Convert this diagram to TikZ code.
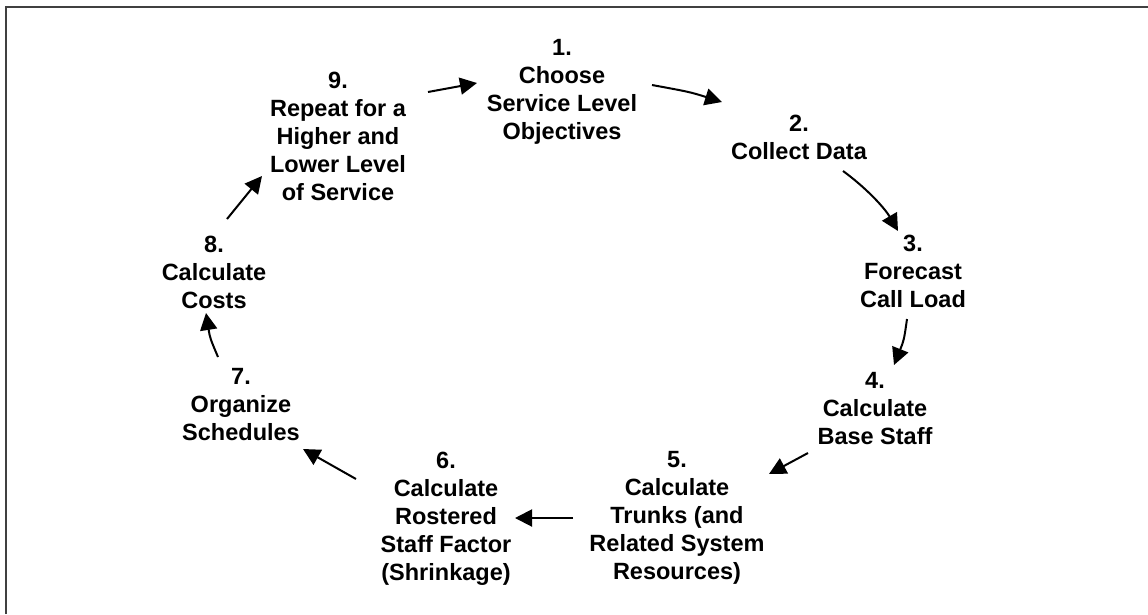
\documentclass[tikz,border=0pt]{standalone}
\usepackage{fontspec}
\setmainfont{Liberation Sans}
\usetikzlibrary{arrows.meta}
\tikzset{
  stepnode/.style={anchor=north, inner sep=0pt, align=center,
    font=\bfseries\fontsize{23.5}{28}\selectfont},
  flow/.style={line width=2pt, -{Triangle[length=17pt,width=17pt]}},
  frame/.style={line width=2.2pt, draw=black!75}
}
\begin{document}
\begin{tikzpicture}[x=1pt,y=-1pt]
\useasboundingbox (0,0) rectangle (1148,614);
\draw[frame] (6,614) -- (6,7) -- (1148,7);

\node[stepnode] (n1) at (562,39) {1.\\Choose\\Service Level\\Objectives};
\node[stepnode] (n2) at (799,115) {2.\\Collect Data};
\node[stepnode] (n3) at (913,235) {3.\\Forecast\\Call Load};
\node[stepnode] (n4) at (875,372) {4.\\Calculate\\Base Staff};
\node[stepnode] (n5) at (677,451) {5.\\Calculate\\Trunks (and\\Related System\\Resources)};
\node[stepnode] (n6) at (446,452) {6.\\Calculate\\Rostered\\Staff Factor\\(Shrinkage)};
\node[stepnode] (n7) at (241,368) {7.\\Organize\\Schedules};
\node[stepnode] (n8) at (214,236) {8.\\Calculate\\Costs};
\node[stepnode] (n9) at (338,72) {9.\\Repeat for a\\Higher and\\Lower Level\\of Service};

\coordinate (a9s) at (428,92);  \coordinate (a9e) at (477,83);
\coordinate (a1s) at (652,85);  \coordinate (a1e) at (722,102);
\coordinate (a2s) at (843,171); \coordinate (a2e) at (898,231);
\coordinate (a3s) at (907,319); \coordinate (a3e) at (894,365);
\coordinate (a4s) at (808,453); \coordinate (a4e) at (769,474);
\coordinate (a5s) at (573,518); \coordinate (a5e) at (515,518);
\coordinate (a6s) at (356,479); \coordinate (a6e) at (303,449);
\coordinate (a7s) at (218,357); \coordinate (a7e) at (206,313);
\coordinate (a8s) at (227,219); \coordinate (a8e) at (262,176);

\draw[flow] (a9s) -- (a9e);
\draw[flow] (a1s) .. controls (690,92) .. (a1e);
\draw[flow] (a2s) .. controls (865,187) and (884,207) .. (a2e);
\draw[flow] (a3s) .. controls (904,340) .. (a3e);
\draw[flow] (a4s) -- (a4e);
\draw[flow] (a5s) -- (a5e);
\draw[flow] (a6s) -- (a6e);
\draw[flow] (a7s) .. controls (210,338) .. (a7e);
\draw[flow] (a8s) -- (a8e);
\end{tikzpicture}
\end{document}
